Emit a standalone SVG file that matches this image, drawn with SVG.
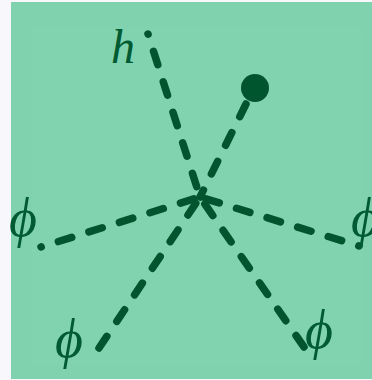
<svg xmlns="http://www.w3.org/2000/svg" width="372" height="380" viewBox="0 0 372 380">
<style>
.bg{fill:#80d2ae}
.ln{stroke:#00552e;stroke-width:7.5;stroke-linecap:round;stroke-dasharray:14 18;fill:none}
.dot{stroke-dashoffset:13.8}
.lb{font-family:"Liberation Serif",serif;font-style:italic;font-size:48px;fill:#005a32}
.ph{font-size:54px}
</style>
<rect x="0" y="0" width="372" height="380" fill="#f8f8fc"/>
<rect class="bg" x="11" y="2" width="361" height="377"/>
<rect x="32" y="26" width="330" height="340" fill="#82d4b0" opacity="0.5"/>
<g id="connectors">
<line class="ln dot" x1="148" y1="34" x2="200" y2="197"/>
<line class="ln" x1="246" y1="104" x2="200" y2="197"/>
<line class="ln dot" x1="41" y1="247" x2="200" y2="197"/>
<line class="ln dot" x1="359" y1="246" x2="200" y2="197"/>
<line class="ln" x1="99" y1="348" x2="200" y2="197"/>
<line class="ln" x1="304" y1="347" x2="200" y2="197"/>
</g>
<g id="blob"><circle cx="255" cy="88" r="14" fill="#00552e"/></g>
<g id="h"><text class="lb" x="111" y="63">h</text></g>
<g id="phi-left"><text class="lb ph" x="9" y="236">ϕ</text></g>
<g id="phi-right"><text class="lb ph" x="351" y="236">ϕ</text></g>
<g id="phi-bl"><text class="lb ph" x="55" y="357">ϕ</text></g>
<g id="phi-br"><text class="lb ph" x="305" y="348">ϕ</text></g>
</svg>
